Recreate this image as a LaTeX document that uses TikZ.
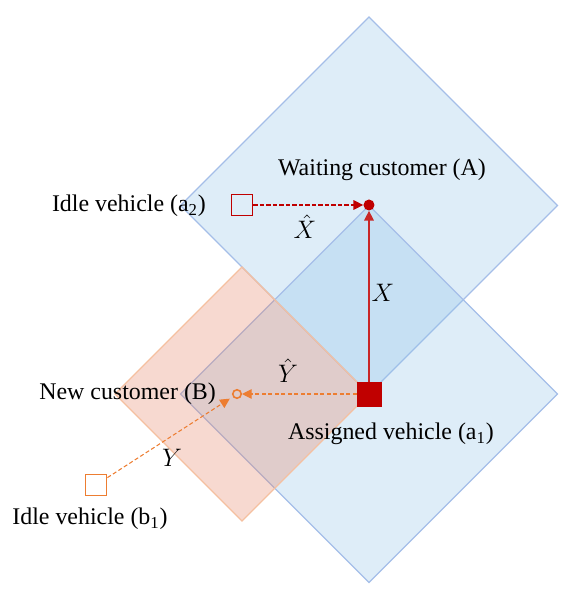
\documentclass[tikz,border=0pt]{standalone}
\usepackage{fontspec}
\setmainfont{Liberation Serif}
\usetikzlibrary{arrows.meta}
\definecolor{zoneblue}{RGB}{145,195,232}
\definecolor{zonebluedge}{RGB}{165,190,232}
\definecolor{zoneorange}{RGB}{230,130,100}
\definecolor{zoneorangedge}{RGB}{245,192,160}
\definecolor{carred}{RGB}{192,0,0}
\definecolor{carorange}{RGB}{237,125,49}
% service zone: centre x, centre y, half diagonal, fill, edge
\newcommand{\zone}[5]
{
	\filldraw [fill=#4,fill opacity=0.3,draw=#5,line width=0.8pt,line join=miter]
	(#1+#3,#2) -- (#1,#2+#3) -- (#1-#3,#2) -- (#1,#2-#3) -- cycle;
}
\tikzset{
	lbl/.style={inner sep=1pt,font=\fontsize{13.6pt}{16pt}\selectfont},
	busy/.style={draw=carred,fill=carred,minimum size=0.48cm,inner sep=0},
	idle/.style={draw=#1,line width=1.1pt,minimum size=0.42cm,inner sep=0},
	trip/.style={line width=0.6pt,-{Triangle[length=5.5pt,width=5.5pt]}},
	wait/.style={trip,dash pattern=on 2.3pt off 1.4pt}
}

\begin{document}
\begin{tikzpicture}
	\useasboundingbox (-7.38,-3.98) rectangle (3.9,7.88);
	\zone{0}{3.77}{3.77}{zoneblue}{zonebluedge}
	\zone{0}{0}{3.77}{zoneblue}{zonebluedge}
	\zone{-2.54}{0}{2.54}{zoneorange}{zoneorangedge}

	\node[busy] (a1) at (0,0) {};
	\node[circle,fill=carred,minimum size=0.22cm,inner sep=0] (A) at (0,3.78) {};
	\node[idle=carred] (a2) at (-2.54,3.78) {};
	\node[circle,draw=carorange,line width=0.9pt,minimum size=0.17cm,inner sep=0] (B) at (-2.64,0) {};
	\node[idle=carorange] (b1) at (-5.46,-1.82) {};

	\draw[trip,carred!85] (a1) -- (A);
	\draw[wait,carred] (a2) -- (A);
	\draw[wait,carorange] (a1) -- (B);
	\draw[wait,carorange,shorten >=2pt] (b1) -- (B);

	\node[lbl] (Alab) at (0.26,4.49) {Waiting customer (A)};
	\node[lbl,anchor=east] (a2lab) at (-3.22,3.76) {Idle vehicle (a\textsubscript{2})};
	\node[lbl,anchor=east] (Blab) at (-3.02,0) {New customer (B)};
	\node[lbl,anchor=west] (a1lab) at (-1.66,-0.8) {Assigned vehicle (a\textsubscript{1})};
	\node[lbl] (b1lab) at (-5.58,-2.49) {Idle vehicle (b\textsubscript{1})};
	\node[lbl,inner sep=0] (Xh) at (-1.28,3.34) {$\hat{X}$};
	\node[lbl] (X) at (0.28,2.02) {$X$};
	\node[lbl,inner sep=0] (Yh) at (-1.62,0.46) {$\hat{Y}$};
	\node[lbl] (Y) at (-3.94,-1.28) {$Y$};
\end{tikzpicture}
\end{document}
